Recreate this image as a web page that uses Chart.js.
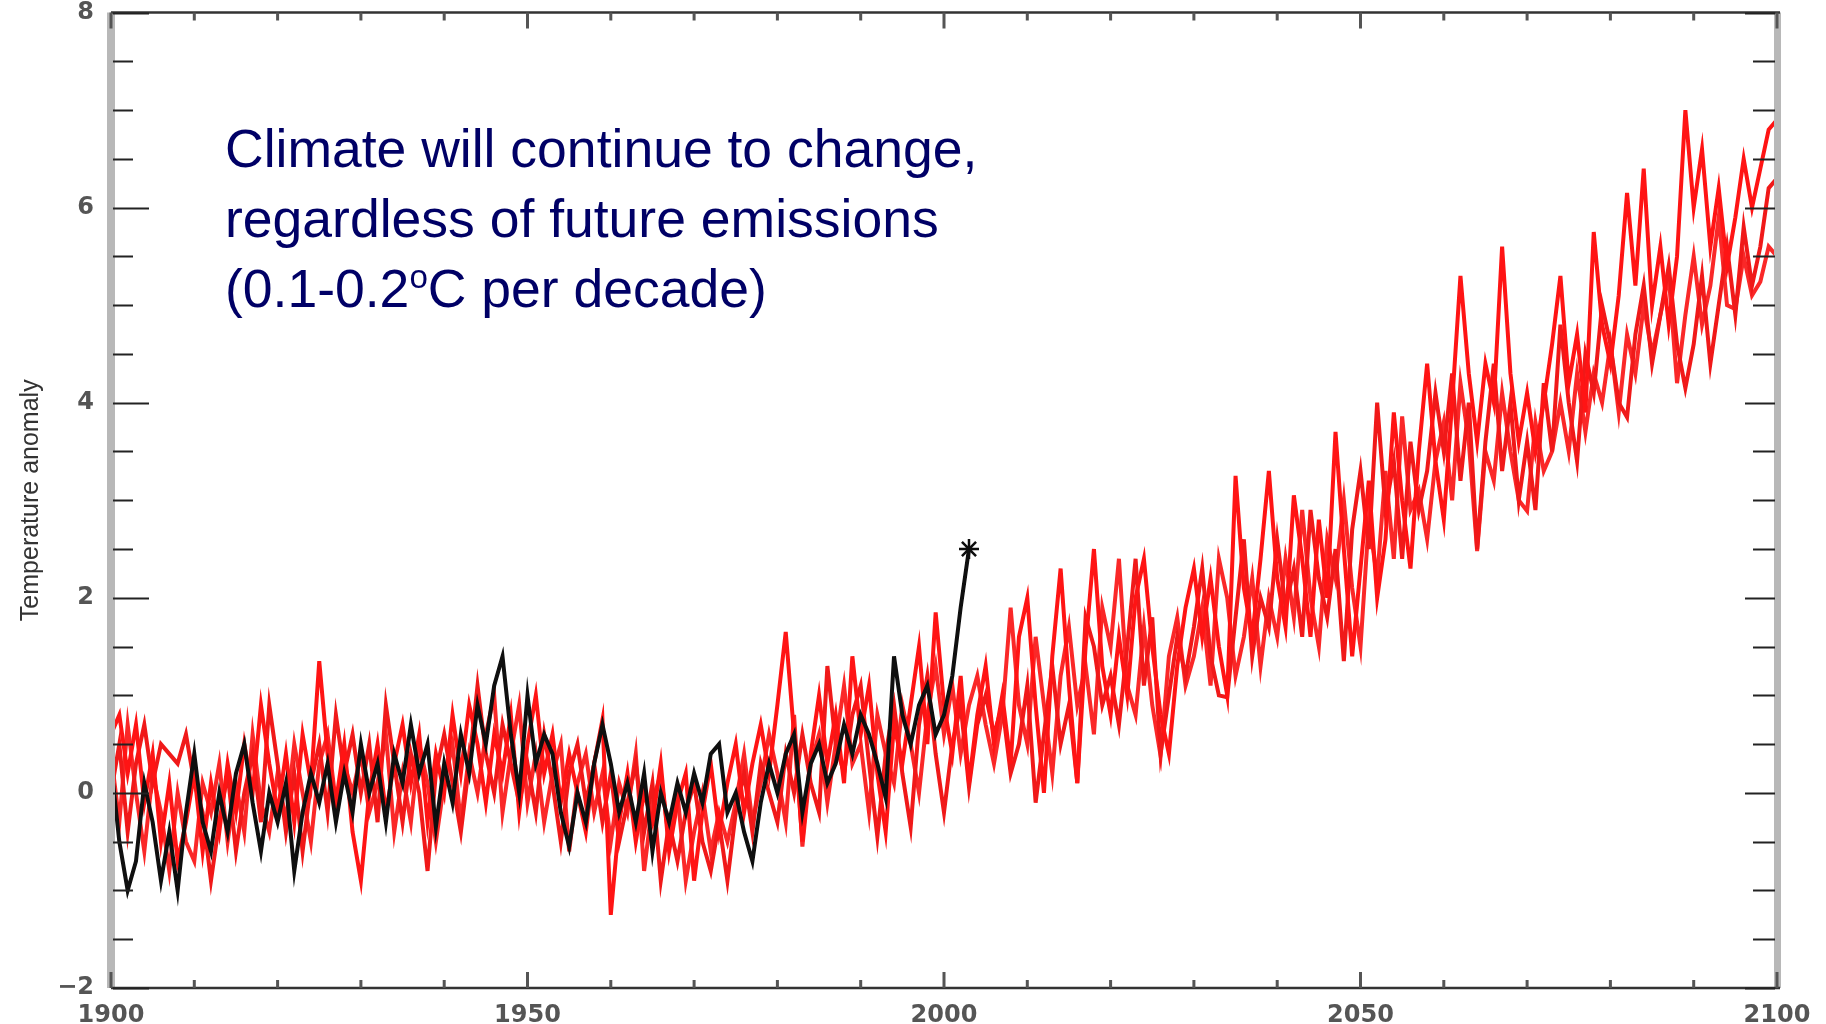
<!DOCTYPE html>
<html>
<head>
<meta charset="utf-8">
<script src="https://cdn.jsdelivr.net/npm/chart.js@4.4.1/dist/chart.umd.min.js"></script>
<style>
  body { margin: 0; background: #fff; }
  #wrap { position: relative; width: 1826px; height: 1024px; }
  #note {
    position: absolute; left: 225px; top: 114px;
    font-family: "Liberation Sans", Arial, sans-serif;
    font-size: 53.5px; line-height: 70px; color: #000066;
    white-space: nowrap;
  }
  #note .deg { font-size: 0.62em; position: relative; top: -19px; }
</style>
</head>
<body>
<div id="wrap">
  <canvas id="myChart"></canvas>
  <div id="note">Climate will continue to change,<br>regardless of future emissions<br>(0.1-0.2<span class="deg">o</span>C per decade)</div>
</div>
<script>
  const firstYear = 1900;

  // observed record, 1900-2003
  const observed = [
    0.3, -0.5, -1.0, -0.7, 0.1, -0.3, -0.9, -0.4, -1.0, -0.2,
    0.4, -0.3, -0.6, 0.0, -0.4, 0.2, 0.5, -0.1, -0.6, 0.0,
    -0.3, 0.1, -0.8, -0.2, 0.2, -0.1, 0.3, -0.3, 0.2, -0.2,
    0.5, 0.0, 0.3, -0.3, 0.4, 0.1, 0.7, 0.2, 0.5, -0.35,
    0.3, -0.1, 0.6, 0.2, 0.9, 0.5, 1.1, 1.4, 0.6, 0.0,
    1.0, 0.3, 0.6, 0.4, -0.2, -0.55, 0.0, -0.3, 0.3, 0.7,
    0.3, -0.2, 0.1, -0.3, 0.2, -0.6, 0.0, -0.3, 0.1, -0.2,
    0.2, -0.1, 0.4, 0.5, -0.2, 0.0, -0.4, -0.7, -0.1, 0.3,
    0.0, 0.4, 0.6, -0.2, 0.3, 0.5, 0.1, 0.3, 0.7, 0.4,
    0.8, 0.6, 0.3, -0.05, 1.4, 0.8, 0.5, 0.9, 1.1, 0.6,
    0.8, 1.2, 1.9, 2.5
  ];

  // model runs, 1900-2100
  const runA = [
    0.6, 0.8, 0.2, 0.7, -0.1, 0.4, -0.5, 0.1, -0.7, -0.3,
    0.2, -0.6, 0.1, -0.4, 0.3, -0.2, 0.5, 0.0, 0.9, 0.3,
    -0.2, 0.4, -0.3, 0.6, 0.1, 1.35, 0.4, -0.1, 0.5, -0.4,
    -0.9, 0.0, 0.5, -0.2, 0.3, 0.7, 0.1, 0.6, -0.3, 0.4,
    0.0, 0.8, 0.2, 0.9, 0.5, -0.1, 0.6, 0.2, 0.8, -0.2,
    0.5, 1.0, 0.2, 0.6, -0.1, 0.4, 0.0, -0.4, 0.3, 0.75,
    -1.25, -0.3, 0.2, -0.5, 0.0, -0.3, 0.3, -0.6, -0.1, 0.2,
    -0.9, -0.2, 0.3, -0.4, 0.1, 0.5, -0.2, 0.3, 0.7, 0.2,
    0.9, 1.65, 0.6, -0.5, 0.4, 1.0, 0.3, 0.8, 0.1, 1.4,
    0.6, 1.1, 0.2, -0.4, 0.7, 0.3, 0.9, 1.5, 0.5, 1.85,
    0.9, 0.4, 1.2, 0.1, 0.8, 1.3, 0.5, 1.0, 0.3, 1.6,
    2.0, 0.9, 0.0, 1.4, 2.3, 1.1, 0.1, 1.5, 2.5, 1.3,
    0.8, 1.6, 1.0, 2.0, 2.4, 1.5, 0.8, 0.4, 1.3, 1.9,
    2.3, 1.6, 2.2, 1.5, 1.0, 3.25, 2.1, 1.6, 2.4, 3.3,
    2.2, 1.7, 3.05, 2.4, 1.6, 2.8, 2.0, 3.7, 2.5, 1.4,
    2.3, 3.2, 2.0, 2.6, 3.9, 3.0, 2.3, 3.5, 4.4, 3.4,
    2.8, 4.0, 5.3, 4.3, 3.6, 4.4, 4.0, 5.6, 4.3, 3.6,
    4.1, 3.5, 4.0, 4.6, 5.3, 4.2, 4.7, 3.9, 5.75, 4.8,
    4.4, 5.1, 6.15, 5.2, 6.4, 5.0, 5.6, 4.8, 5.5, 7.0,
    6.0, 6.6, 5.6, 6.2, 5.4, 5.9, 6.5, 6.0, 6.4, 6.8,
    6.9
  ];
  const runB = [
    0.0, 0.5, -0.4, 0.3, 0.7, 0.1, 0.5, 0.4, 0.3, 0.6,
    0.1, -0.2, -0.9, -0.3, 0.2, -0.6, 0.0, 0.4, -0.3, 0.9,
    0.3, -0.4, 0.2, -0.6, 0.1, 0.5, -0.2, 0.8, 0.2, 0.6,
    0.0, 0.5, -0.3, 0.9, 0.3, -0.3, 0.4, 0.0, -0.8, 0.2,
    0.6, 0.1, -0.4, 0.3, 1.1, 0.4, 0.0, 0.7, 0.3, -0.1,
    0.3, -0.2, 0.6, 0.1, -0.5, 0.2, 0.5, -0.1, 0.3, -0.3,
    0.2, -0.5, -0.1, 0.3, -0.4, 0.1, -0.9, -0.3, -0.7, -0.2,
    0.1, -0.5, -0.8, -0.3, -0.9, -0.2, 0.2, -0.4, 0.3, 0.0,
    -0.3, 0.4, 0.0, 0.6, 0.1, -0.2, 1.3, 0.5, 0.2, 0.8,
    1.1, 0.3, -0.45, 0.4, 0.9, 0.2, -0.35, 0.7, 1.2, 0.4,
    -0.2, 0.5, 0.9, 0.06, 0.7, 1.0, 0.6, 0.9, 0.2, 0.5,
    1.1, -0.1, 0.6, 1.3, 0.5, 0.9, 0.1, 1.8, 1.5, 0.9,
    1.2, 0.7, 1.5, 2.4, 1.1, 1.8, 0.4, 1.0, 1.6, 1.2,
    1.7, 2.3, 1.4, 1.0, 0.98, 1.8, 2.6, 1.4, 2.0, 1.7,
    2.6, 1.9, 2.3, 1.6, 2.9, 2.2, 1.8, 2.5, 1.35, 2.7,
    3.3, 2.5, 4.0, 2.9, 3.4, 2.4, 3.6, 2.9, 3.3, 4.1,
    3.5, 4.3, 3.2, 4.0, 2.5, 3.6, 4.4, 3.3, 4.0, 3.0,
    3.6, 2.9, 4.2, 3.5, 4.8, 4.0, 3.4, 4.5, 4.1, 5.0,
    4.6, 4.0, 3.85, 4.7, 5.2, 4.4, 4.9, 5.4, 4.6, 4.15,
    4.6, 5.3, 4.4, 5.0, 5.6, 4.9, 5.8, 5.2, 5.6, 6.2,
    6.3
  ];
  const runC = [
    0.4, -0.3, 0.7, 0.0, -0.6, 0.2, -0.2, -0.8, 0.0, -0.5,
    -0.7, 0.1, -0.2, 0.3, -0.5, 0.1, -0.4, 0.6, -0.1, -0.4,
    0.2, -0.3, 0.5, 0.0, -0.5, 0.3, 0.6, -0.1, 0.3, 0.0,
    0.4, -0.2, 0.1, 0.6, -0.4, 0.2, -0.3, 0.5, 0.1, -0.5,
    0.1, 0.5, -0.3, 0.4, 0.0, 0.6, 1.0, -0.2, 0.4, 0.9,
    -0.1, 0.4, -0.3, 0.2, 0.5, -0.6, 0.1, 0.4, -0.2, 0.2,
    -0.5, 0.1, -0.2, 0.4, -0.8, -0.1, 0.2, -0.5, 0.0, -0.9,
    -0.4, 0.0, -0.6, -0.2, -0.5, -0.1, 0.4, -0.3, 0.1, 0.6,
    0.2, -0.3, 0.8, -0.55, 0.3, 0.6, -0.1, 0.5, 1.1, 0.3,
    0.5, -0.2, 0.8, 0.4, 0.1, 0.9, 0.5, 0.0, 0.8, 1.3,
    0.6, 1.1, 0.4, 0.9, 1.2, 0.7, 0.3, 0.8, 1.9, 0.9,
    0.5, 1.6, 0.9, 0.2, 1.2, 1.7, 0.9, 1.3, 0.6, 1.9,
    1.5, 2.4, 1.1, 0.8, 1.7, 0.9, 0.38, 1.4, 1.8, 1.1,
    1.4, 1.9, 1.1, 2.4, 2.0, 1.2, 1.6, 2.2, 1.3, 2.0,
    1.6, 2.4, 1.8, 2.9, 2.0, 1.5, 2.6, 2.2, 3.0, 2.1,
    1.5, 2.8, 2.2, 3.3, 2.4, 3.86, 2.9, 3.1, 2.6, 3.4,
    3.8, 3.0, 4.2, 3.6, 2.48, 3.5, 3.2, 4.1, 3.5, 3.0,
    2.89, 3.8, 3.3, 3.5, 4.0, 3.5, 4.3, 3.7, 4.3, 4.0,
    4.6, 3.9, 4.7, 4.3, 5.0, 4.5, 4.9, 5.3, 4.2, 4.9,
    5.5, 4.8, 5.2, 5.9, 5.0, 4.96, 5.5, 5.1, 5.24, 5.6,
    5.5
  ];

  const xLabelYears = [1900, 1950, 2000, 2050, 2100];
  const yLabelValues = [-2, 0, 2, 4, 6, 8];

  const toPoints = arr => arr.map((v, i) => ({ x: firstYear + i, y: v }));

  // axis box with inward ticks, drawn from the scales
  const frame = {
    id: 'frame',
    afterDatasetsDraw(chart) {
      const { ctx, chartArea: a, scales: { x, y } } = chart;
      ctx.save();
      ctx.fillStyle = '#b8b8b8';
      ctx.fillRect(a.left - 4, a.top, 8, a.bottom - a.top);
      ctx.fillRect(a.right - 3, a.top, 7, a.bottom - a.top);

      ctx.strokeStyle = '#333';
      ctx.lineWidth = 2.5;
      ctx.beginPath();
      ctx.moveTo(a.left, a.top); ctx.lineTo(a.right + 3, a.top);
      ctx.moveTo(a.left, a.bottom); ctx.lineTo(a.right + 3, a.bottom);
      ctx.stroke();

      ctx.lineWidth = 2;
      ctx.strokeStyle = '#222';
      ctx.beginPath();
      y.ticks.forEach((t, i) => {
        const py = Math.round(y.getPixelForTick(i)) + 0.5;
        const len = t.label ? 36 : 20;
        ctx.moveTo(a.left + 2, py); ctx.lineTo(a.left + 2 + len, py);
        ctx.moveTo(a.right - 2, py); ctx.lineTo(a.right - 2 - (t.label ? 30 : 22), py);
      });
      ctx.stroke();

      ctx.strokeStyle = '#555';
      ctx.lineWidth = 3;
      ctx.beginPath();
      x.ticks.forEach((t, i) => {
        const px = x.getPixelForTick(i);
        const len = t.label ? 16 : 8;
        ctx.moveTo(px, a.bottom); ctx.lineTo(px, a.bottom - len);
        ctx.moveTo(px, a.top); ctx.lineTo(px, a.top + len);
      });
      ctx.stroke();
      ctx.restore();
    }
  };

  const data = {
    datasets: [{
      label: 'Observed',
      data: toPoints(observed),
      borderColor: 'rgb(15, 15, 15)',
      backgroundColor: 'rgb(15, 15, 15)',
      borderWidth: 4,
      pointStyle: 'star',
      pointRadius: c => c.dataIndex === observed.length - 1 ? 10 : 0,
      pointBorderWidth: 2.5,
    }, {
      label: 'Run A',
      data: toPoints(runA),
      borderColor: 'rgb(255, 20, 20)',
      borderWidth: 4,
      pointRadius: 0,
    }, {
      label: 'Run B',
      data: toPoints(runB),
      borderColor: 'rgb(240, 25, 25)',
      borderWidth: 4,
      pointRadius: 0,
    }, {
      label: 'Run C',
      data: toPoints(runC),
      borderColor: 'rgb(250, 40, 40)',
      borderWidth: 4,
      pointRadius: 0,
    }]
  };

  const config = {
    type: 'line',
    data: data,
    plugins: [frame],
    options: {
      responsive: true,
      maintainAspectRatio: false,
      animation: false,
      layout: { padding: { top: 10, right: 49, left: 0, bottom: 0 } },
      plugins: {
        legend: { display: false },
        tooltip: { enabled: false },
      },
      elements: { line: { tension: 0 } },
      scales: {
        x: {
          type: 'linear',
          min: 1900,
          max: 2100,
          grid: { display: false },
          border: { display: false },
          ticks: {
            stepSize: 10,
            autoSkip: false,
            maxRotation: 0,
            padding: 5,
            color: '#555',
            font: { family: 'DejaVu Sans', size: 24, weight: 'bold' },
            callback: v => xLabelYears.includes(v) ? String(v) : '',
          },
          afterFit: s => { s.height = 36; s.paddingLeft = 0; s.paddingRight = 0; },
        },
        y: {
          min: -2,
          max: 8,
          grid: { display: false },
          border: { display: false },
          title: {
            display: true,
            text: 'Temperature anomaly',
            color: '#333',
            padding: { top: 16, bottom: 0 },
            font: { family: 'Liberation Sans', size: 25 },
          },
          ticks: {
            stepSize: 0.5,
            autoSkip: false,
            padding: 9,
            color: '#555',
            font: { family: 'DejaVu Sans', size: 24, weight: 'bold' },
            callback: v => yLabelValues.includes(v) ? (v < 0 ? '\u2212' + Math.abs(v) : String(v)) : '',
          },
          afterFit: s => { s.width = 111; s.paddingTop = 0; s.paddingBottom = 0; },
        }
      }
    }
  };

  const myChart = new Chart(
    document.getElementById('myChart'),
    config
  );
</script>
</body>
</html>
